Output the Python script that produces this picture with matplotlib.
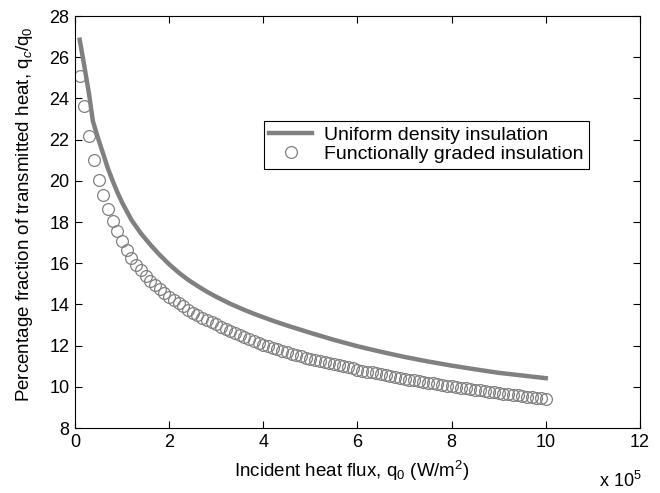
import numpy as np
import matplotlib
matplotlib.use('Agg')
import matplotlib.pyplot as plt

plt.rcParams['font.family'] = ['Liberation Sans', 'DejaVu Sans']
plt.rcParams['mathtext.fontset'] = 'custom'
plt.rcParams['mathtext.rm'] = 'Liberation Sans'
plt.rcParams['mathtext.it'] = 'Liberation Sans:italic'

# Uniform density insulation (solid line), x in units of 1e5 W/m^2
uniform_x = [0.1, 0.2, 0.3, 0.38, 0.5, 0.6, 0.7, 0.8, 0.9, 1.0,
             1.2, 1.4, 1.6, 1.8, 2.0, 2.2, 2.4, 2.6, 2.8, 3.0,
             3.3, 3.6, 3.9, 4.2, 4.5, 5.0, 5.5, 6.0, 6.5, 7.0,
             7.5, 8.0, 8.5, 9.0, 9.5, 10.0]
uniform_y = [26.85, 25.55, 24.2, 22.9, 22.0, 21.3, 20.6, 20.0, 19.45, 18.95,
             18.1, 17.45, 16.9, 16.4, 15.95, 15.55, 15.2, 14.9, 14.62, 14.37,
             14.03, 13.73, 13.46, 13.21, 12.98, 12.62, 12.28, 11.97, 11.7, 11.45,
             11.23, 11.03, 10.85, 10.68, 10.55, 10.42]

# Functionally graded insulation (open circles)
graded_x = [round(0.1 * k, 1) for k in range(1, 101)]
graded_y = [25.1, 23.65, 22.2, 21.0, 20.05, 19.3, 18.65, 18.05, 17.55, 17.1,
            16.65, 16.25, 15.9, 15.65, 15.4, 15.15, 14.95, 14.75, 14.55, 14.35,
            14.2, 14.05, 13.9, 13.75, 13.6, 13.47, 13.35, 13.24, 13.13, 13.03,
            12.92, 12.82, 12.72, 12.62, 12.52, 12.42, 12.32, 12.23, 12.14, 12.05,
            11.97, 11.89, 11.82, 11.75, 11.68, 11.61, 11.55, 11.48, 11.42, 11.36,
            11.3, 11.25, 11.19, 11.14, 11.09, 11.04, 10.99, 10.94, 10.89, 10.84,
            10.79, 10.74, 10.7, 10.65, 10.61, 10.56, 10.52, 10.47, 10.43, 10.39,
            10.35, 10.31, 10.28, 10.24, 10.2, 10.17, 10.13, 10.1, 10.06, 10.03,
            10.0, 9.96, 9.93, 9.9, 9.86, 9.83, 9.8, 9.77, 9.73, 9.7,
            9.67, 9.64, 9.61, 9.58, 9.55, 9.52, 9.49, 9.47, 9.44, 9.41]

xticks = [0, 2, 4, 6, 8, 10, 12]
yticks = [8, 10, 12, 14, 16, 18, 20, 22, 24, 26, 28]

fig = plt.figure(figsize=(6.6, 4.93), dpi=100)
ax = fig.add_axes([0.1136, 0.1318, 0.856, 0.8357])

gray = '#808080'
ax.plot(uniform_x, uniform_y, color=gray, linewidth=3.2, label='Uniform density insulation')
ax.plot(graded_x, graded_y, linestyle='none', marker='o', markersize=8.5,
        markerfacecolor='none', markeredgecolor=gray, markeredgewidth=0.9,
        label='Functionally graded insulation')

ax.set_xlim(0, 12)
ax.set_ylim(8, 28)
ax.set_xticks(xticks)
ax.set_yticks(yticks)
ax.tick_params(direction='in', top=True, right=True, labelsize=13, length=5, width=0.8, pad=4)
for s in ax.spines.values():
    s.set_linewidth(0.8)

ax.set_xlabel(r'Incident heat flux, q$_0$ (W/m$^2$)', fontsize=13.5)
ax.set_ylabel(r'Percentage fraction of transmitted heat, q$_c$/q$_0$', fontsize=13.5)
ax.xaxis.set_label_coords(0.49, -0.075)
ax.yaxis.set_label_coords(-0.07, 0.52)
fig.text(0.908, 0.012, r'x 10$^5$', fontsize=13)

leg = ax.legend(loc='upper left', bbox_to_anchor=(0.334, 0.745), fontsize=14,
                frameon=True, fancybox=False, edgecolor='black', framealpha=1,
                handlelength=2.2, handletextpad=0.6, borderpad=0.28,
                labelspacing=0.08, borderaxespad=0)
leg.get_frame().set_linewidth(0.8)

fig.savefig('out.png', dpi=100, facecolor='white')
